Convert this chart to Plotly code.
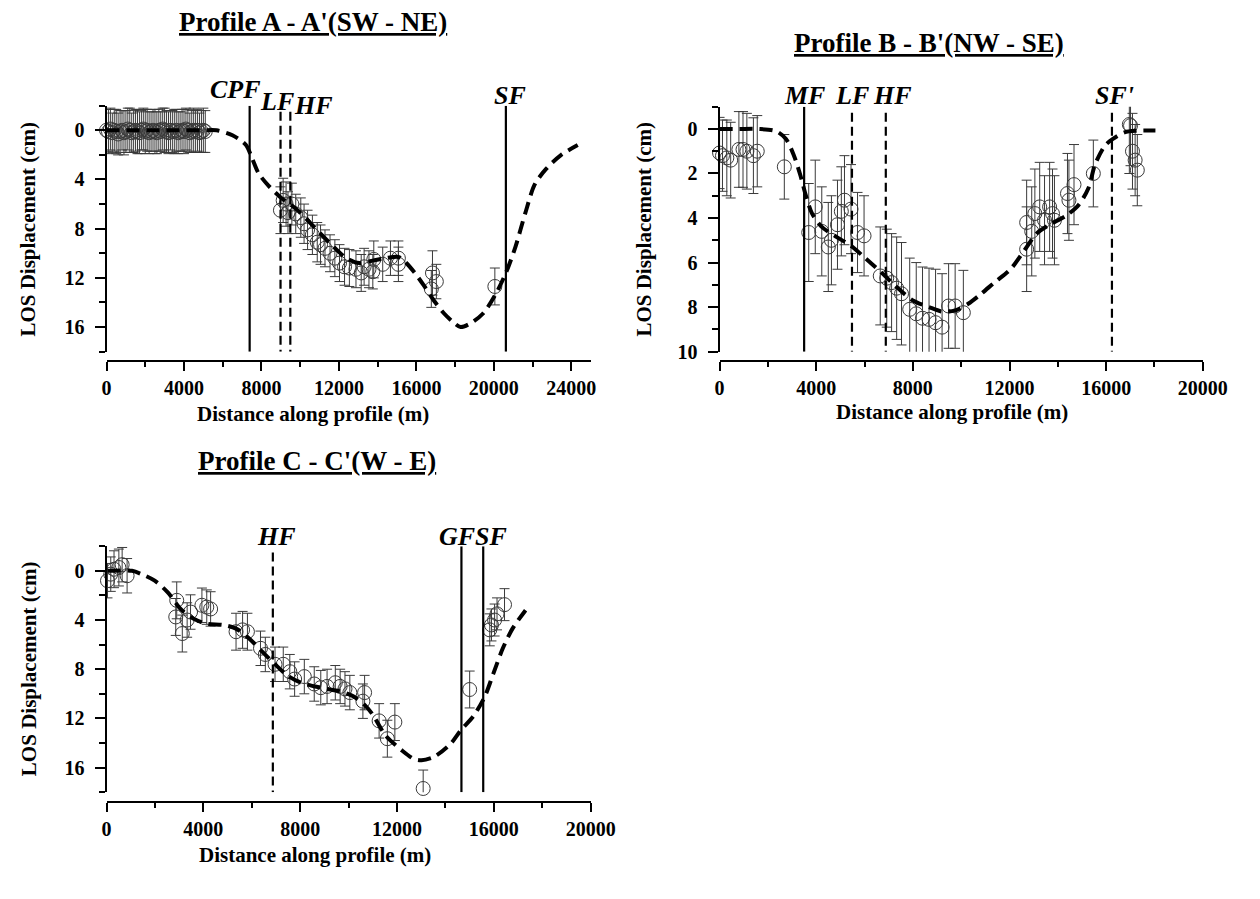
import plotly.graph_objects as go

W, H = 1260, 899

# ---------------- DATA ----------------
# Profile A - A'
a_x = [0, 100, 200, 300, 400, 500, 600, 700, 800, 900, 1000, 1100, 1200, 1300, 1400, 1500, 1600,
       1700, 1800, 1900, 2000, 2100, 2200, 2300, 2400, 2500, 2600, 2700, 2800, 2900, 3000, 3100,
       3200, 3300, 3400, 3500, 3600, 3700, 3800, 3900, 4000, 4100, 4200, 4300, 4400, 4500, 4600,
       4700, 4800, 4900, 5000, 5100,
       8980, 9120, 9270, 9370, 9570, 9770, 10030, 10200, 10380, 10630, 10880, 11050, 11280,
       11540, 11790, 12030, 12290, 12540, 12880, 13150, 13300, 13550, 13750, 13800, 14260,
       14660, 15070, 15070, 16770, 16830, 17030, 20050]
a_y = [0.0, 0.1, -0.1, 0.2, 0.0, 0.1, 0.3, 0.1, 0.0, 0.2, 0.1, -0.1, 0.0, 0.2, 0.1, 0.0, 0.1,
       0.2, 0.0, -0.1, 0.1, 0.0, 0.2, 0.1, 0.0, 0.1, 0.2, 0.0, 0.1, -0.1, 0.0, 0.1,
       0.2, 0.0, 0.1, 0.1, 0.0, 0.2, 0.1, 0.0, 0.1, -0.1, 0.0, 0.2, 0.1, 0.0, 0.1,
       0.0, 0.2, 0.1, 0.0, 0.1,
       6.5, 5.7, 6.0, 6.7, 6.0, 6.8, 7.1, 7.6, 8.1, 8.5, 9.1, 9.3, 9.6,
       10.0, 10.4, 10.8, 11.1, 11.2, 11.3, 11.6, 11.1, 11.3, 11.5, 10.5, 10.9,
       10.4, 10.4, 10.9, 12.9, 11.6, 12.3, 12.7]
a_err = [1.7, 1.8, 1.7, 1.6, 1.7, 1.8, 1.7, 1.7, 1.6, 1.8, 1.7, 1.7, 1.8, 1.6, 1.7, 1.7, 1.8,
         1.7, 1.6, 1.7, 1.8, 1.7, 1.7, 1.6, 1.7, 1.8, 1.7, 1.7, 1.6, 1.7, 1.8, 1.7,
         1.7, 1.6, 1.7, 1.8, 1.7, 1.7, 1.6, 1.7, 1.8, 1.7, 1.7, 1.6, 1.7, 1.8, 1.7,
         1.7, 1.6, 1.7, 1.8, 1.7,
         1.9, 1.8, 1.8, 1.7, 1.7, 1.6, 1.6, 1.6, 1.6, 1.6, 1.6, 1.6, 1.5,
         1.5, 1.5, 1.5, 1.5, 1.5, 1.5, 1.5, 1.5, 1.5, 1.4, 1.5, 1.4,
         1.4, 1.4, 1.4, 1.5, 1.8, 1.4, 1.5]
a_model_x = [0, 1000, 2000, 3000, 4000, 5000, 5680, 6500, 7200, 7510, 7850, 8360, 9020, 9720,
             10380, 11050, 11740, 12390, 13050, 13750, 14410, 15070, 15420, 15920, 16420, 16930,
             17430, 17900, 18280, 18790, 19440, 20100, 20620, 21110, 21610, 22110, 22720, 23480,
             24330]
a_model_y = [0, 0, 0, 0, 0, 0, 0, 0.4, 1.2, 2.25, 3.5, 4.5, 5.5, 6.3,
             7.3, 8.4, 9.5, 10.4, 10.8, 10.6, 10.4, 10.3, 10.7, 11.6, 12.7, 13.9,
             14.9, 15.6, 16.0, 15.7, 14.9, 13.3, 11.6, 9.5, 6.8, 4.4, 3.1, 2.0,
             1.2]
a_faults = ["CPF", "LF", "HF", "SF"]
a_fault_x = [7390, 8985, 9490, 20620]
a_fault_solid = [True, False, False, True]

# Profile B - B'
b_x = [0, 120, 300, 460, 800, 970, 1130, 1400, 1560, 2680,
       3690, 3960, 4230, 4500, 4630, 4880, 5040, 5170, 5440, 5710, 5980,
       6650, 6920, 7120, 7330, 7530, 7870, 8140, 8400, 8670, 8940, 9210, 9480, 9750, 10090,
       12710, 12710, 12920, 13050, 13250, 13450, 13660, 13780, 13860, 14400, 14460, 14670, 15470,
       16960, 17010, 17090, 17200, 17290]
b_y = [1.08, 1.2, 1.3, 1.4, 0.92, 0.92, 1.0, 1.2, 1.0, 1.7,
       4.65, 3.5, 4.6, 5.3, 5.0, 4.3, 3.7, 3.2, 3.6, 4.65, 4.8,
       6.6, 6.7, 6.9, 7.15, 7.4, 8.1, 8.3, 8.5, 8.55, 8.7, 8.9, 7.95, 7.95, 8.25,
       5.4, 4.2, 4.6, 3.8, 3.5, 4.1, 3.5, 3.8, 4.1, 2.9, 3.2, 2.5, 2.0,
       -0.2, -0.15, 1.0, 1.4, 1.85]
b_err = [1.6, 1.6, 1.7, 1.7, 1.7, 1.7, 1.7, 1.7, 1.6, 1.45,
         2.2, 2.1, 2.0, 2.0, 2.0, 2.0, 2.0, 2.0, 2.0, 1.8, 1.8,
         2.2, 2.2, 2.2, 2.3, 2.3, 2.3, 2.3, 2.3, 2.3, 2.4, 2.4, 1.9, 1.9, 1.9,
         1.9, 1.9, 2.0, 2.0, 2.0, 2.0, 2.0, 2.0, 2.0, 1.8, 1.8, 1.8, 1.5,
         2.2, 1.8, 1.7, 1.6, 1.6]
b_model_x = [0, 800, 1600, 2340, 2750, 3080, 3350, 3560, 3830, 4230, 4770, 5440, 5980, 6650,
             7330, 8000, 8670, 9210, 9750, 10290, 10830, 11370, 12040, 12650, 13120, 13660,
             14340, 14870, 15270, 15540, 15950, 16280, 16760, 17290, 18040]
b_model_y = [0, 0, 0, 0.1, 0.45, 1.2, 2.1, 2.95, 3.8, 4.4, 4.8, 5.25, 5.75, 6.4,
             7.1, 7.7, 8.0, 8.2, 8.15, 7.85, 7.4, 6.9, 6.3, 5.4, 4.7, 4.3,
             3.9, 3.4, 2.65, 1.6, 0.75, 0.45, 0.15, 0.08, 0.07]
b_faults = ["MF", "LF", "HF", "SF'"]
b_fault_x = [3500, 5480, 6880, 16240]
b_fault_solid = [True, False, False, False]

# Profile C - C'
c_x = [40, 175, 310, 510, 645, 850,
       2860, 2900, 3130, 3330, 3470, 3940, 4140, 4300,
       5350, 5620, 5820,
       6360, 6560, 6960, 7300, 7570, 7770, 8170, 8580, 8850, 9110, 9450, 9650, 9850, 10050,
       10590, 10660, 11260, 11600, 11910, 13080, 15000,
       15830, 15900, 16030, 16130, 16440]
c_y = [0.8, 0.27, -0.13, -0.27, -0.5, 0.4,
       3.75, 2.4, 5.1, 4.0, 3.35, 2.8, 2.95, 3.1,
       4.95, 4.8, 4.95,
       6.3, 6.8, 7.6, 7.6, 8.2, 8.8, 8.6, 9.2, 9.5, 9.4, 9.1, 9.4, 9.6, 9.9,
       10.6, 9.9, 12.2, 13.65, 12.3, 17.7, 9.65,
       4.8, 4.4, 4.0, 3.5, 2.75]
c_err = [1.4, 1.4, 1.5, 1.5, 1.4, 1.4,
         1.5, 1.5, 1.5, 1.4, 1.4, 1.4, 1.4, 1.4,
         1.5, 1.5, 1.5,
         1.4, 1.4, 1.4, 1.4, 1.4, 1.4, 1.4, 1.4, 1.4, 1.4, 1.4, 1.4, 1.4, 1.4,
         1.4, 1.4, 1.4, 1.5, 1.5, 1.5, 1.5,
         1.3, 1.3, 1.3, 1.3, 1.3]
c_model_x = [40, 1050, 1450, 1990, 2530, 3060, 3600, 4140, 4810, 5350, 5890, 6420, 6960, 7500,
             8040, 8840, 9650, 10190, 10660, 11000, 11530, 12200, 12700, 13010, 13550, 14220,
             14620, 15160, 15630, 15970, 16370, 16770, 17310]
c_model_y = [0, 0, 0.27, 0.8, 1.75, 3.1, 3.9, 4.3, 4.4, 4.7, 5.5, 6.55, 7.6, 8.55,
             9.1, 9.5, 9.8, 10.2, 10.9, 11.7, 13.4, 14.6, 15.3, 15.4, 15.1, 14.05,
             13.0, 11.8, 10.2, 8.4, 6.3, 4.7, 3.2]
c_faults = ["HF", "GF", "SF"]
c_fault_x = [6870, 14660, 15560]
c_fault_solid = [False, True, True]

titles = ["Profile A - A'(SW - NE)", "Profile B - B'(NW - SE)", "Profile C - C'(W - E)"]
xlabel = "Distance along profile (m)"
ylabel = "LOS Displacement (cm)"

# ---------------- LAYOUT HELPERS (pixel -> paper) ----------------
def px(x):
    return x / W

def py(y):
    return 1 - y / H

FONT = "Liberation Serif, Times New Roman, serif"

panels = [
    dict(x=a_x, y=a_y, err=a_err, mx=a_model_x, my=a_model_y, fn=a_faults, fx=a_fault_x,
         fs=a_fault_solid, xr=[0, 25000], yr=[18, -2], ydt=4, ymin=2,
         xdom=(104, 600), ydom=(107, 356), xline=365,
         flab_dx=[-14, -4, 23, 4], flab_y=[91, 103, 107, 97],
         title_xy=(316, 22), xt_xy=(315, 419), yt_xy=(24, 232)),
    dict(x=b_x, y=b_y, err=b_err, mx=b_model_x, my=b_model_y, fn=b_faults, fx=b_fault_x,
         fs=b_fault_solid, xr=[0, 20000], yr=[10, -1], ydt=2, ymin=1,
         xdom=(732, 1227), ydom=(108, 356), xline=365,
         flab_dx=[0, 0, 7, 3], flab_y=[97, 97, 97, 97],
         title_xy=(947, 44), xt_xy=(970, 417), yt_xy=(655, 232)),
    dict(x=c_x, y=c_y, err=c_err, mx=c_model_x, my=c_model_y, fn=c_faults, fx=c_fault_x,
         fs=c_fault_solid, xr=[0, 20000], yr=[18, -2], ydt=4, ymin=2,
         xdom=(104, 600), ydom=(553, 802), xline=812,
         flab_dx=[4, -4, 8], flab_y=[543, 543, 543],
         title_xy=(320, 467), xt_xy=(318, 866), yt_xy=(24, 677)),
]

fig = go.Figure()
annotations = []
layout_axes = {}

for i, p in enumerate(panels):
    n = "" if i == 0 else str(i + 1)
    xa, ya = "x" + n, "y" + n
    # data points with error bars
    fig.add_trace(go.Scatter(
        x=p["x"], y=p["y"], mode="markers", xaxis=xa, yaxis=ya,
        marker=dict(symbol="circle-open", size=14, color="#3a3a3a", line=dict(width=1)),
        error_y=dict(type="data", array=p["err"], visible=True, thickness=1, width=5,
                     color="#3a3a3a"),
        cliponaxis=False, showlegend=False))
    # fault lines
    ylo, yhi = p["yr"][1], p["yr"][0]
    for name, fxv, solid in zip(p["fn"], p["fx"], p["fs"]):
        top = ylo if solid else ylo + (yhi - ylo) * 0.025
        fig.add_trace(go.Scatter(
            x=[fxv, fxv], y=[top, yhi], mode="lines", xaxis=xa, yaxis=ya,
            line=dict(color="black", width=2.2, dash="solid" if solid else "9px,5px"),
            showlegend=False, hoverinfo="skip"))
    # model curve
    fig.add_trace(go.Scatter(
        x=p["mx"], y=p["my"], mode="lines", xaxis=xa, yaxis=ya,
        line=dict(color="black", width=4, dash="13px,7px", shape="spline", smoothing=0.8),
        showlegend=False))
    # fault labels
    for name, fxv, dx, ly in zip(p["fn"], p["fx"], p["flab_dx"], p["flab_y"]):
        annotations.append(dict(
            x=fxv, xref=xa, y=py(ly), yref="paper", xshift=dx, text="<b><i>%s</i></b>" % name,
            showarrow=False, font=dict(family=FONT, size=26, color="black"),
            xanchor="center", yanchor="middle"))
    # titles
    tx, ty = p["title_xy"]
    annotations.append(dict(x=px(tx), y=py(ty), xref="paper", yref="paper",
                            text="<b><u>%s</u></b>" % titles[i], showarrow=False,
                            font=dict(family=FONT, size=27, color="black"),
                            xanchor="center", yanchor="middle"))
    xx, xy = p["xt_xy"]
    annotations.append(dict(x=px(xx), y=py(xy), xref="paper", yref="paper",
                            text="<b>%s</b>" % xlabel, showarrow=False,
                            font=dict(family=FONT, size=21, color="black"),
                            xanchor="center", yanchor="middle"))
    yx, yy = p["yt_xy"]
    annotations.append(dict(x=px(yx), y=py(yy), xref="paper", yref="paper",
                            text="<b>%s</b>" % ylabel, showarrow=False, textangle=-90,
                            font=dict(family=FONT, size=21, color="black"),
                            xanchor="center", yanchor="middle"))

    tickfont = dict(family=FONT, size=20, color="black", weight="bold")
    layout_axes["xaxis" + n] = dict(
        domain=[px(p["xdom"][0]), px(p["xdom"][1])], range=p["xr"],
        anchor="free", position=py(p["xline"]),
        tick0=0, dtick=4000, tickformat="d", ticks="outside", ticklen=9, tickwidth=2,
        tickcolor="black",
        minor=dict(dtick=2000, tick0=0, ticks="outside", ticklen=5, tickwidth=2,
                   tickcolor="black"),
        showline=True, linewidth=2, linecolor="black", showgrid=False, zeroline=False,
        tickfont=tickfont, ticklabelstandoff=0)
    layout_axes["yaxis" + n] = dict(
        domain=[py(p["ydom"][1]), py(p["ydom"][0])], range=p["yr"], anchor=xa,
        tick0=0, dtick=p["ydt"], tickformat="d", ticks="outside", ticklen=10, tickwidth=2,
        tickcolor="black",
        minor=dict(dtick=p["ymin"], tick0=0, ticks="outside", ticklen=6, tickwidth=2,
                   tickcolor="black"),
        showline=True, linewidth=2, linecolor="black", showgrid=False, zeroline=False,
        tickfont=tickfont, ticklabelstandoff=6)

fig.update_layout(
    width=W, height=H, margin=dict(l=0, r=0, t=0, b=0),
    paper_bgcolor="white", plot_bgcolor="white",
    font=dict(family=FONT, color="black"),
    annotations=annotations, showlegend=False, **layout_axes)

fig.write_html("out.html")
